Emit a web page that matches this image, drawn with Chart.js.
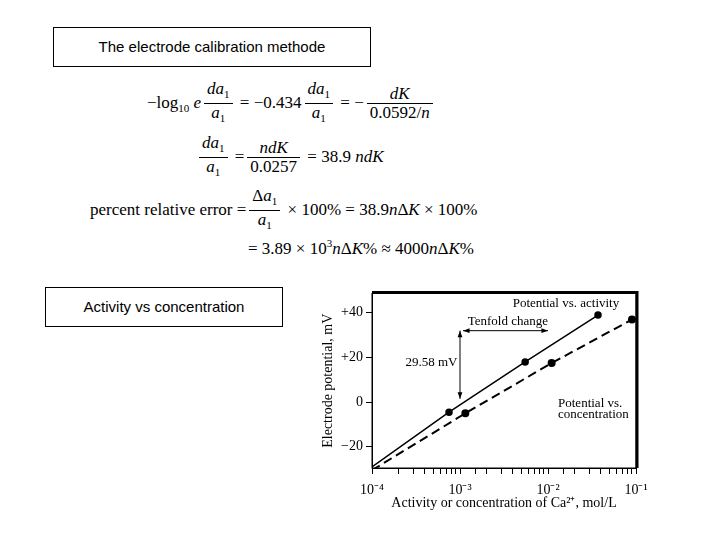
<!DOCTYPE html>
<html><head><meta charset="utf-8">
<script src="https://cdn.jsdelivr.net/npm/chart.js@4"></script>
<style>
body{margin:0;width:720px;height:540px;background:#fff;position:relative;overflow:hidden;font-family:"Liberation Serif",serif;}
.box{position:absolute;border:1px solid #000;font-family:"Liberation Sans",Arial,sans-serif;font-size:15px;text-align:center;line-height:38px;box-sizing:border-box}
.eq{position:absolute;font-size:17px;white-space:nowrap;line-height:40px}
.fr{display:inline-block;vertical-align:middle;text-align:center;line-height:18px;margin:0 3px}
.fr span{display:block;padding:0 3px}
.fr span:first-child{border-bottom:1px solid #000}
sub,sup{font-size:11px}
i{font-style:italic}
#wrap{position:absolute;left:320px;top:282px;width:340px;height:240px}
</style></head><body>
<div class="box" style="left:53px;top:27px;width:318px;height:40px">The electrode calibration methode</div>
<div class="box" style="left:45px;top:287px;width:238px;height:40px">Activity vs concentration</div>
<div class="eq" style="left:147px;top:80px">−log<sub>10</sub> <i>e</i><span class="fr"><span><i>da</i><sub>1</sub></span><span><i>a</i><sub>1</sub></span></span> = −0.434<span class="fr"><span><i>da</i><sub>1</sub></span><span><i>a</i><sub>1</sub></span></span> = −<span class="fr"><span><i>dK</i></span><span>0.0592/<i>n</i></span></span></div>
<div class="eq" style="left:196px;top:134px"><span class="fr"><span><i>da</i><sub>1</sub></span><span><i>a</i><sub>1</sub></span></span> =<span class="fr"><span><i>ndK</i></span><span>0.0257</span></span> = 38.9 <i>ndK</i></div>
<div class="eq" style="left:90px;top:187px">percent relative error =<span class="fr"><span>Δ<i>a</i><sub>1</sub></span><span><i>a</i><sub>1</sub></span></span> × 100% = 38.9<i>n</i>Δ<i>K</i> × 100%</div>
<div class="eq" style="left:248px;top:223px">= 3.89 × 10<sup>3</sup><i>n</i>Δ<i>K</i>% ≈ 4000<i>n</i>Δ<i>K</i>%</div>
<div id="wrap"><canvas id="c"></canvas></div>
<script>
const activityX = [1e-4, 7.5e-4, 5.5e-3, 3.7e-2];
const activityY = [-29, -4.5, 18, 39];
const concX = [1e-4, 1.15e-3, 1.1e-2, 9e-2];
const concY = [-30.5, -5, 17.5, 37];
const yTicks = [-20, 0, 20, 40];
const xTickLabels = {"0.0001":"10⁻⁴","0.001":"10⁻³","0.01":"10⁻²","0.1":"10⁻¹"};

const toPts = (xs, ys) => xs.map((x, i) => ({x, y: ys[i]}));
const serif = {family: "Liberation Serif", size: 14};

const extras = {
  id: "extras",
  afterDraw(chart) {
    const {ctx, chartArea: a, scales: {x, y}} = chart;
    ctx.save();
    ctx.strokeStyle = "#000"; ctx.lineWidth = 1;
    ctx.strokeRect(a.left, a.top, a.right - a.left, a.bottom - a.top);
    ctx.lineWidth = 3;
    ctx.beginPath(); ctx.moveTo(a.left, a.top - 1); ctx.lineTo(a.right + 1, a.top - 1); ctx.lineTo(a.right + 1, a.bottom); ctx.stroke();
    ctx.fillStyle = "#000"; ctx.font = "13px Liberation Serif";
    ctx.textAlign = "center";
    ctx.fillText("Potential vs. activity", x.getPixelForValue(1.6e-2), y.getPixelForValue(42.5));
    ctx.fillText("Tenfold change", x.getPixelForValue(3.5e-3), y.getPixelForValue(34.5));
    ctx.textAlign = "left";
    ctx.fillText("Potential vs.", x.getPixelForValue(1.3e-2), y.getPixelForValue(-2));
    ctx.fillText("concentration", x.getPixelForValue(1.3e-2), y.getPixelForValue(-7));
    ctx.fillText("29.58 mV", x.getPixelForValue(2.4e-4), y.getPixelForValue(16));
    const arrow = (x1, y1, x2, y2) => {
      ctx.lineWidth = 1;
      ctx.beginPath(); ctx.moveTo(x1, y1); ctx.lineTo(x2, y2); ctx.stroke();
      const ang = Math.atan2(y2 - y1, x2 - x1);
      [[x2, y2, ang], [x1, y1, ang + Math.PI]].forEach(([px, py, t]) => {
        ctx.beginPath(); ctx.moveTo(px, py);
        ctx.lineTo(px - 7 * Math.cos(t - 0.35), py - 7 * Math.sin(t - 0.35));
        ctx.lineTo(px - 7 * Math.cos(t + 0.35), py - 7 * Math.sin(t + 0.35));
        ctx.closePath(); ctx.fill();
      });
    };
    const xv = x.getPixelForValue(1e-3);
    arrow(xv, y.getPixelForValue(32), xv, y.getPixelForValue(1.5));
    arrow(xv + 3, y.getPixelForValue(32), x.getPixelForValue(1e-2), y.getPixelForValue(32));
    ctx.restore();
  }
};

new Chart(document.getElementById("c"), {
  type: "scatter",
  data: {datasets: [
    {data: toPts(activityX, activityY), showLine: true, borderColor: "#000", borderWidth: 1.5,
     pointRadius: ctx => ctx.dataIndex === 0 ? 0 : 3, pointBackgroundColor: "#000", pointBorderColor: "#000"},
    {data: toPts(concX, concY), showLine: true, borderColor: "#000", borderWidth: 2, borderDash: [9, 5],
     pointRadius: ctx => ctx.dataIndex === 0 ? 0 : 3, pointBackgroundColor: "#000", pointBorderColor: "#000"}
  ]},
  options: {
    responsive: true, maintainAspectRatio: false, animation: false,
    layout: {padding: {top: 6, right: 24}},
    plugins: {legend: {display: false}, tooltip: {enabled: false}},
    scales: {
      x: {type: "logarithmic", min: 1e-4, max: 1e-1,
        afterFit: s => { s.height = 54; },
        grid: {drawOnChartArea: false, tickLength: 6, color: "#000"},
        border: {color: "#000"},
        ticks: {color: "#000", font: serif, autoSkip: false, maxRotation: 0, padding: 8,
          callback: v => xTickLabels[String(v)] || ""},
        title: {display: true, text: "Activity or concentration of Ca²⁺, mol/L", color: "#000", font: serif, padding: {top: 0, bottom: 10}}},
      y: {min: -29.5, max: 48.7,
        afterFit: s => { s.width = 52; },
        afterBuildTicks: s => { s.ticks = yTicks.map(v => ({value: v})); },
        grid: {drawOnChartArea: false, tickLength: 6, color: "#000"},
        border: {color: "#000"},
        ticks: {color: "#000", font: serif, callback: v => v > 0 ? "+" + v : (v < 0 ? "−" + (-v) : "0")},
        title: {display: true, text: "Electrode potential, mV", color: "#000", font: serif, padding: 0}}
    }
  },
  plugins: [extras]
});
</script>
</body></html>
